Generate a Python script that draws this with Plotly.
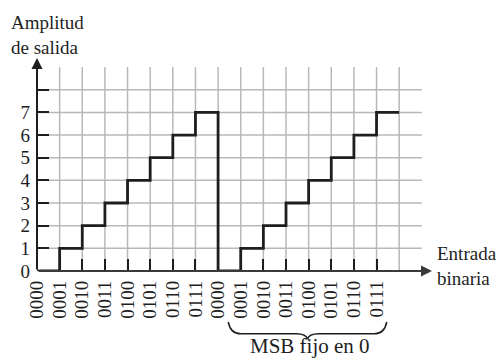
import plotly.graph_objects as go

# ---- data ----
codes = ["0000", "0001", "0010", "0011", "0100", "0101", "0110", "0111",
         "0000", "0001", "0010", "0011", "0100", "0101", "0110", "0111"]
levels = [0, 1, 2, 3, 4, 5, 6, 7, 0, 1, 2, 3, 4, 5, 6, 7]
y_ticks = [0, 1, 2, 3, 4, 5, 6, 7, 8]
y_ticktext = ["0", "1", "2", "3", "4", "5", "6", "7", ""]

XMAX, YMAX = 17.45, 9.4
FONT = "Liberation Serif"
INK = "#1e1e1e"
GRID = "#b8b8b8"

xs = list(range(len(codes) + 1))
ys = levels + [levels[-1]]

def dx(v):
    return v / XMAX

def dy(v):
    return v / YMAX

fig = go.Figure()
fig.add_trace(go.Scatter(
    x=xs, y=ys, mode="lines", line=dict(shape="hv", color=INK, width=2.8),
    cliponaxis=False, hoverinfo="skip", showlegend=False))

shapes = []
# grid
for i in range(1, len(codes) + 1):
    shapes.append(dict(type="line", xref="x", yref="y", x0=i, x1=i, y0=0, y1=9,
                       line=dict(color=GRID, width=1.5), layer="below"))
for j in range(1, 9):
    shapes.append(dict(type="line", xref="x", yref="y", x0=0, x1=17, y0=j, y1=j,
                       line=dict(color=GRID, width=1.5), layer="below"))

# brace under second half
bl, br = 8.45, 15.45
bm = 11.95
ye, yh, yt = -2.25, -2.77, -3.02
pts = (f"M {dx(bl)},{dy(ye)} Q {dx(bl+0.1)},{dy(yh)} {dx(bl+0.55)},{dy(yh)} "
       f"L {dx(bm-0.5)},{dy(yh)} Q {dx(bm-0.05)},{dy(yh)} {dx(bm)},{dy(yt)} "
       f"Q {dx(bm+0.05)},{dy(yh)} {dx(bm+0.5)},{dy(yh)} "
       f"L {dx(br-0.55)},{dy(yh)} Q {dx(br-0.1)},{dy(yh)} {dx(br)},{dy(ye)}")
shapes.append(dict(type="path", xref="x domain", yref="y domain", path=pts,
                   line=dict(color=INK, width=1.5)))
fig.update_layout(shapes=shapes)

# axes arrows
fig.add_annotation(x=0, y=YMAX, ax=0, ay=0, xref="x", yref="y", axref="x", ayref="y",
                   showarrow=True, arrowhead=2, arrowsize=1.1, arrowwidth=2,
                   arrowcolor=INK, text="")
fig.add_annotation(x=XMAX, y=0, ax=0, ay=0, xref="x", yref="y", axref="x", ayref="y",
                   showarrow=True, arrowhead=2, arrowsize=1.1, arrowwidth=2,
                   arrowcolor="#3a3a3a", text="")

# texts (paper coords from data units)
fig.add_annotation(x=dx(-1.22), y=dy(10.42), xref="paper", yref="paper",
                   text="Amplitud<br>de salida",
                   showarrow=False, xanchor="left", yanchor="middle", align="left",
                   font=dict(family=FONT, size=19, color=INK))
fig.add_annotation(x=dx(17.6), y=dy(0.2), xref="paper", yref="paper",
                   text="Entrada<br>binaria",
                   showarrow=False, xanchor="left", yanchor="middle", align="left",
                   font=dict(family=FONT, size=19, color=INK))
fig.add_annotation(x=dx(12.05), y=dy(-3.33), xref="paper", yref="paper",
                   text="MSB fijo en 0",
                   showarrow=False, xanchor="center", yanchor="middle",
                   font=dict(family=FONT, size=21, color=INK))

fig.update_xaxes(range=[0, XMAX], tickvals=list(range(len(codes))), ticktext=codes,
                 tickangle=-90, ticks="inside", ticklen=12, tickwidth=1.5, tickcolor=INK,
                 ticklabelstandoff=5,
                 showgrid=False, zeroline=False, showline=False, automargin=False,
                 tickfont=dict(family=FONT, size=19, color=INK))
fig.update_yaxes(range=[0, YMAX], tickvals=y_ticks, ticktext=y_ticktext,
                 ticks="inside", ticklen=12, tickwidth=1.5, tickcolor=INK,
                 ticklabelstandoff=6,
                 showgrid=False, zeroline=False, showline=False, automargin=False,
                 tickfont=dict(family=FONT, size=19, color=INK))

fig.update_layout(width=500, height=360, margin=dict(l=37, r=68, t=58, b=89),
                  plot_bgcolor="white", paper_bgcolor="white", showlegend=False)

fig.write_html("out.html",
               config={"displayModeBar": False},
               post_script="document.body.style.margin='0';"
                           "document.body.style.overflow='hidden';")
